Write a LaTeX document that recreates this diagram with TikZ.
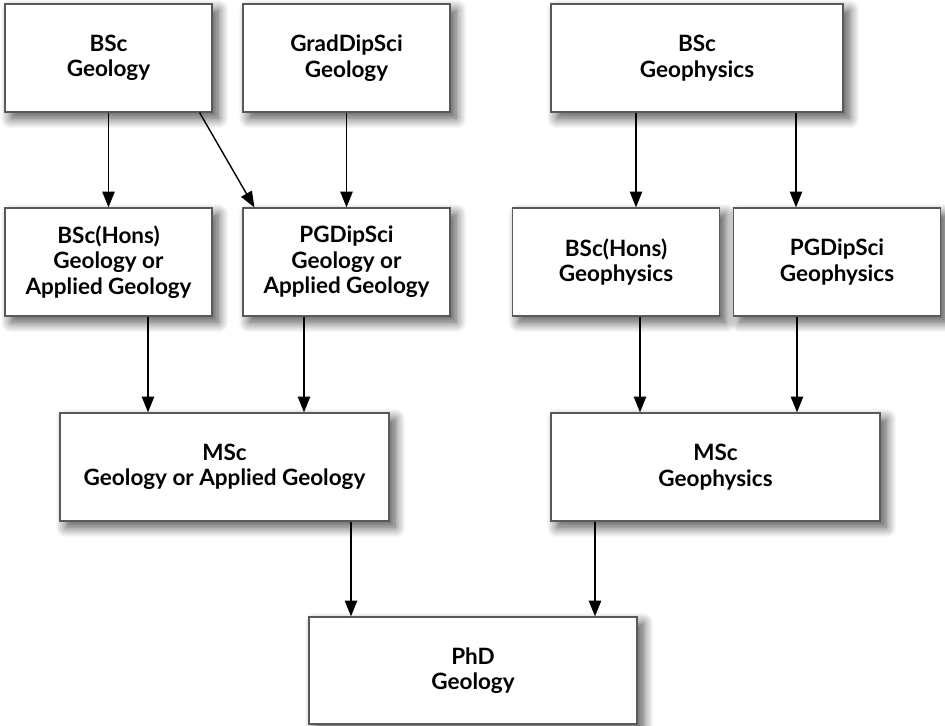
\documentclass[tikz,border=0pt]{standalone}
\usepackage{fontspec}
\setmainfont{Lato}
\usepackage{tikz}
\usetikzlibrary{arrows.meta,shadows.blur}

\begin{document}
\begin{tikzpicture}[
	degree/.style={draw=black!65, line width=0.7pt, fill=white, align=center,
		minimum width=4.14cm, minimum height=2.16cm, inner sep=0pt,
		font=\bfseries\fontsize{12.8}{14.5}\selectfont,
		blur shadow={shadow xshift=3.5pt, shadow yshift=-3.5pt, shadow blur radius=6pt, shadow blur steps=10, shadow opacity=70}},
	wide/.style={degree, minimum width=6.58cm},
	arr/.style={-{Triangle[length=9pt,width=7pt]}, line width=1pt}
	]
	\useasboundingbox (0,0) rectangle (18.9,-14.52);

	% first degrees
	\node[degree] (bscgeo) at (2.17,-1.16) {BSc\\Geology};
	\node[degree] (graddip) at (6.93,-1.16) {GradDipSci\\Geology};
	\node[degree, minimum width=5.84cm] (bscgph) at (13.94,-1.16) {BSc\\Geophysics};

	% honours and postgraduate diplomas
	\node[degree] (honsgeo) at (2.17,-5.24) {BSc(Hons)\\Geology or\\Applied Geology};
	\node[degree] (pgdgeo) at (6.93,-5.24) {PGDipSci\\Geology or\\Applied Geology};
	\node[degree] (honsgph) at (12.32,-5.24) {BSc(Hons)\\Geophysics};
	\node[degree] (pgdgph) at (16.74,-5.24) {PGDipSci\\Geophysics};

	% masters
	\node[wide] (mscgeo) at (4.49,-9.34) {MSc\\Geology or Applied Geology};
	\node[wide] (mscgph) at (14.31,-9.34) {MSc\\Geophysics};

	\node[wide, minimum width=6.56cm, minimum height=2.14cm] (phd) at (9.46,-13.41) {PhD\\Geology};

	\draw[arr] (bscgeo) -- (honsgeo);
	\draw[arr, line width=0.8pt] ([xshift=-0.26cm]bscgeo.south east) -- ([xshift=0.24cm]pgdgeo.north west);
	\draw[arr] (graddip) -- (pgdgeo);
	\draw[arr] ([xshift=0.4cm]honsgph.north |- bscgph.south) -- ([xshift=0.4cm]honsgph.north);
	\draw[arr] ([xshift=-0.82cm]pgdgph.north |- bscgph.south) -- ([xshift=-0.82cm]pgdgph.north);

	\draw[arr] ([xshift=0.79cm]honsgeo.south) -- ([xshift=0.79cm]honsgeo.south |- mscgeo.north);
	\draw[arr] ([xshift=-0.85cm]pgdgeo.south) -- ([xshift=-0.85cm]pgdgeo.south |- mscgeo.north);
	\draw[arr] ([xshift=0.48cm]honsgph.south) -- ([xshift=0.48cm]honsgph.south |- mscgph.north);
	\draw[arr] ([xshift=-0.8cm]pgdgph.south) -- ([xshift=-0.8cm]pgdgph.south |- mscgph.north);

	\draw[arr] ([xshift=2.53cm]mscgeo.south) -- ([xshift=2.53cm]mscgeo.south |- phd.north);
	\draw[arr] ([xshift=-2.41cm]mscgph.south) -- ([xshift=-2.41cm]mscgph.south |- phd.north);
\end{tikzpicture}
\end{document}
